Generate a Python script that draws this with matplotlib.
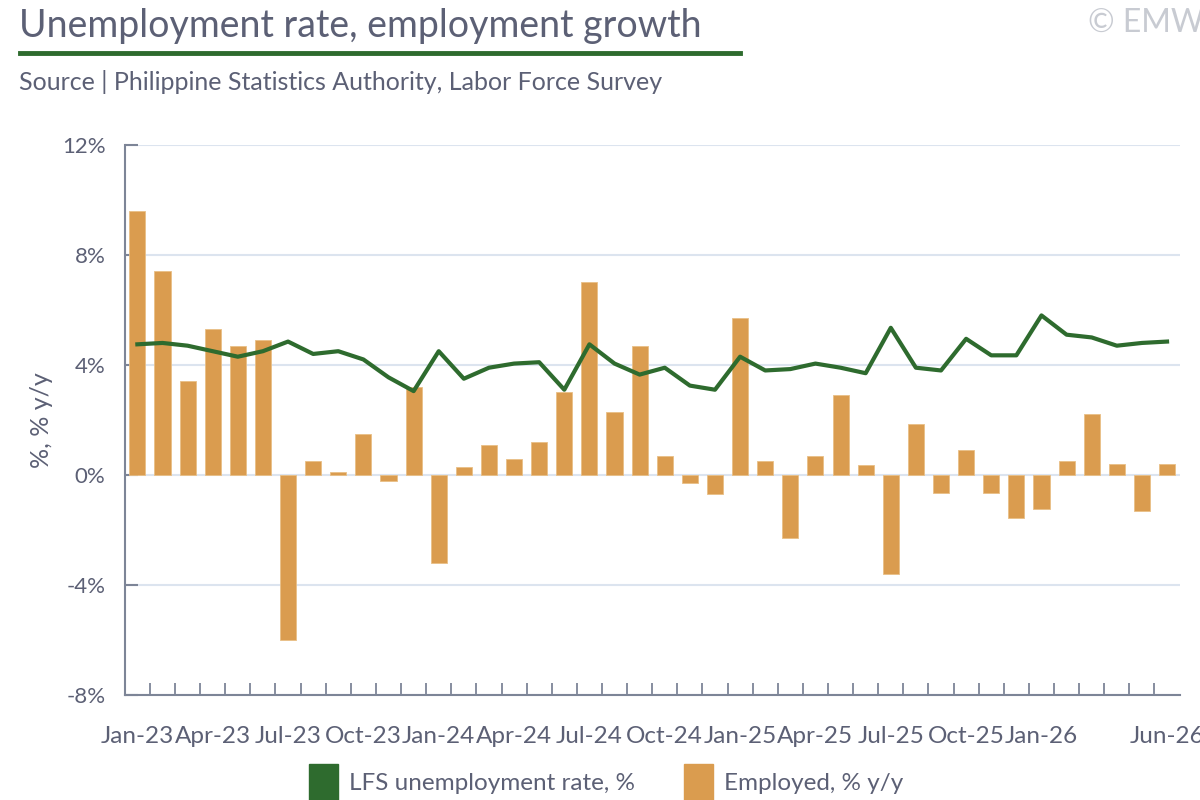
import matplotlib
matplotlib.use("Agg")
import matplotlib.pyplot as plt
from matplotlib.patches import Rectangle
import numpy as np

plt.rcParams["font.family"] = ["Lato", "DejaVu Sans"]

TEXT = "#5c6075"
AXIS = "#7d8597"
GRID = "#dce4ef"
GREEN = "#2e6b2e"
ORANGE = "#da9c4f"

months = ["Jan-23", "Feb-23", "Mar-23", "Apr-23", "May-23", "Jun-23",
          "Jul-23", "Aug-23", "Sep-23", "Oct-23", "Nov-23", "Dec-23",
          "Jan-24", "Feb-24", "Mar-24", "Apr-24", "May-24", "Jun-24",
          "Jul-24", "Aug-24", "Sep-24", "Oct-24", "Nov-24", "Dec-24",
          "Jan-25", "Feb-25", "Mar-25", "Apr-25", "May-25", "Jun-25",
          "Jul-25", "Aug-25", "Sep-25", "Oct-25", "Nov-25", "Dec-25",
          "Jan-26", "Feb-26", "Mar-26", "Apr-26", "May-26", "Jun-26"]

employed_yy = [9.6, 7.4, 3.4, 5.3, 4.7, 4.9,
               -6.0, 0.5, 0.1, 1.5, -0.2, 3.2,
               -3.2, 0.3, 1.1, 0.6, 1.2, 3.0,
               7.0, 2.3, 4.7, 0.7, -0.3, -0.7,
               5.7, 0.5, -2.3, 0.7, 2.9, 0.35,
               -3.6, 1.85, -0.65, 0.9, -0.65, -1.55,
               -1.25, 0.5, 2.2, 0.4, -1.3, 0.4]

unemployment = [4.75, 4.8, 4.7, 4.5, 4.3, 4.5,
                4.85, 4.4, 4.5, 4.2, 3.55, 3.05,
                4.5, 3.5, 3.9, 4.05, 4.1, 3.1,
                4.75, 4.05, 3.65, 3.9, 3.25, 3.1,
                4.3, 3.8, 3.85, 4.05, 3.9, 3.7,
                5.35, 3.9, 3.8, 4.95, 4.35, 4.35,
                5.8, 5.1, 5.0, 4.7, 4.8, 4.85]

label_idx = [0, 3, 6, 9, 12, 15, 18, 21, 24, 27, 30, 33, 36, 41]

fig = plt.figure(figsize=(12, 8), dpi=100)
ax = fig.add_axes([0.104, 0.131, 0.879, 0.688])

x = np.arange(len(months))
ax.bar(x, employed_yy, width=0.64, color=ORANGE, edgecolor="#e9bf86",
       linewidth=0.6, zorder=2)
ax.plot(x, unemployment, color=GREEN, linewidth=3, zorder=3)

ax.set_xlim(-0.5, len(months) - 0.5)
ax.set_ylim(-8, 12)
ax.set_yticks([-8, -4, 0, 4, 8, 12])
ax.set_yticklabels(["-8%", "-4%", "0%", "4%", "8%", "12%"])
ax.yaxis.grid(True, color=GRID, linewidth=1.5, zorder=0)
ax.set_axisbelow(True)

ax.set_xticks(label_idx)
ax.set_xticklabels([months[i] for i in label_idx])
ax.set_xticks(np.arange(0.5, len(months) - 0.5, 1.0), minor=True)
ax.tick_params(axis="x", which="major", length=0, pad=22,
               labelsize=17.5, labelcolor=TEXT)
ax.tick_params(axis="x", which="minor", direction="in", length=9,
               width=1.3, color=AXIS)
ax.tick_params(axis="y", direction="in", length=9, width=1.5,
               color=AXIS, labelsize=16, labelcolor=TEXT, pad=14)

for s in ["top", "right"]:
    ax.spines[s].set_visible(False)
for s in ["left", "bottom"]:
    ax.spines[s].set_color(AXIS)
    ax.spines[s].set_linewidth(1.5)

ax.set_ylabel("%, % y/y", fontsize=18, color=TEXT, labelpad=6)

fig.text(0.016, 0.99, "Unemployment rate, employment growth",
         fontsize=27, color=TEXT, va="top", ha="left")
fig.add_artist(plt.Line2D([0.017, 0.617], [0.934, 0.934],
                          color=GREEN, linewidth=3.5))
fig.text(0.016, 0.898, "Source | Philippine Statistics Authority, Labor Force Survey",
         fontsize=18, color=TEXT, va="center", ha="left")
fig.text(1.003, 0.99, "\u00a9 EMW", fontsize=23, color="#c8cbd2",
         va="top", ha="right")

leg_handles = [Rectangle((0, 0), 1, 1, color=GREEN),
               Rectangle((0, 0), 1, 1, color=ORANGE)]
leg_labels = ["LFS unemployment rate, %", "Employed, % y/y"]
leg = fig.legend(leg_handles, leg_labels, loc="center",
                 bbox_to_anchor=(0.505, 0.022), ncol=2, frameon=False,
                 fontsize=17.5, handlelength=1.2, handleheight=1.9,
                 handletextpad=0.45, columnspacing=2.0)
for t in leg.get_texts():
    t.set_color(TEXT)

fig.savefig("out.png", dpi=100)
